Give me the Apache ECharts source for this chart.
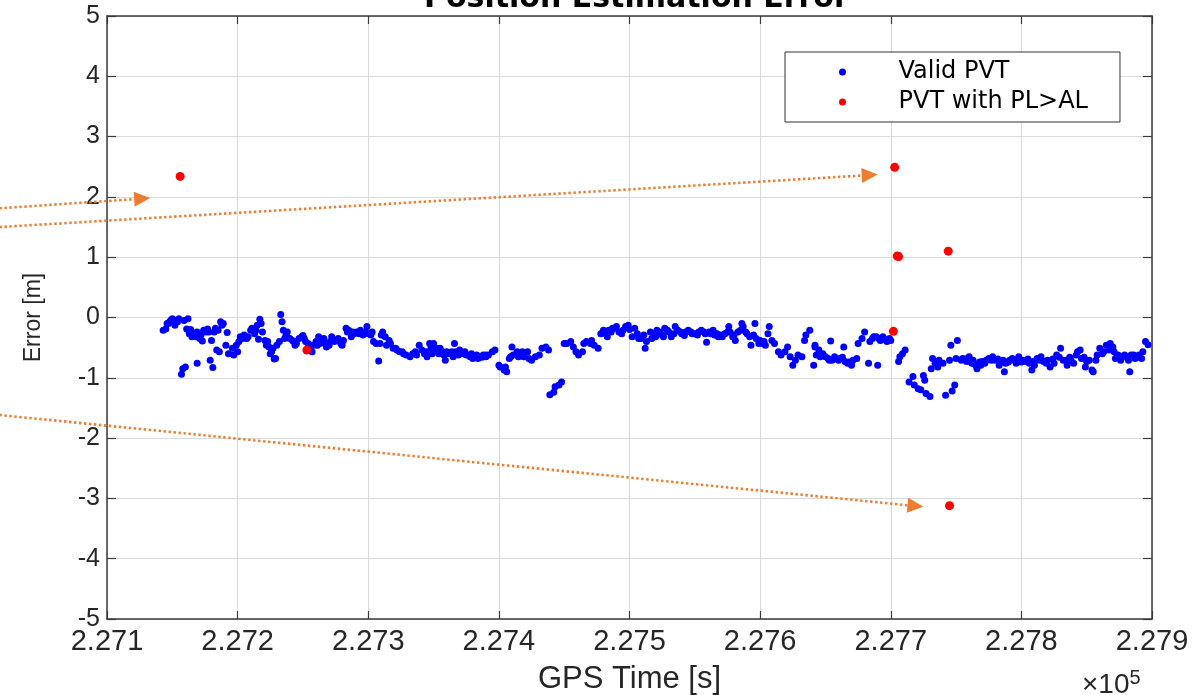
<!DOCTYPE html>
<html><head><meta charset="utf-8">
<script src="https://cdn.jsdelivr.net/npm/echarts@6/dist/echarts.min.js"></script>
<style>html,body{margin:0;padding:0;background:#fff}#c{width:1199px;height:695px}</style>
</head><body><div id="c"></div>
<script>
// ---- data ----
const xTickLabels = ['2.271','2.272','2.273','2.274','2.275','2.276','2.277','2.278','2.279'];
const yTickLabels = ['-5','-4','-3','-2','-1','0','1','2','3','4','5'];

const validSeg1 = [
[227143,-0.21],[227145,-0.19],[227147,-0.10],[227149,-0.04],[227151,-0.07],[227152,-0.13],[227155,-0.02],[227150,-0.02],[227162,-0.02],[227161,-0.19],
[227164,-0.20],[227165,-0.32],[227168,-0.32],[227169,-0.24],[227171,-0.35],[227173,-0.39],[227174,-0.21],[227177,-0.19],[227178,-0.24],[227182,-0.24],
[227183,-0.18],[227187,-0.07],[227188,-0.13],[227192,-0.25],[227180,-0.38],[227184,-0.54],[227186,-0.57],[227191,-0.46],[227193,-0.60],[227196,-0.51],
[227197,-0.62],[227200,-0.57],[227201,-0.40],[227202,-0.32],[227205,-0.29],[227207,-0.35],[227208,-0.32],[227211,-0.18],[227214,-0.21],[227215,-0.13],
[227217,-0.03],[227219,-0.24],[227216,-0.36],[227221,-0.38],[227222,-0.46],[227224,-0.49],[227225,-0.60],[227226,-0.57],[227229,-0.68],[227230,-0.46],
[227233,0.05],[227234,-0.07],[227235,-0.21],[227236,-0.35],[227238,-0.24],[227240,-0.35],[227243,-0.40],[227244,-0.46],[227245,-0.43],[227249,-0.32],
[227250,-0.30],[227252,-0.40],[227254,-0.43],[227257,-0.57],[227258,-0.46],[227261,-0.46],[227262,-0.32],[227264,-0.40],[227266,-0.35],[227268,-0.49],
[227271,-0.40],[227272,-0.32],[227275,-0.38],[227277,-0.35],[227280,-0.46],[227281,-0.38],[227283,-0.18],[227285,-0.21],[227287,-0.32],[227289,-0.27],
[227291,-0.24],[227294,-0.21],[227296,-0.29],[227299,-0.15],[227300,-0.27],[227303,-0.24],[227304,-0.40],[227306,-0.43],[227309,-0.43],[227311,-0.24],
[227313,-0.32],[227314,-0.46],[227317,-0.43],[227319,-0.51],[227322,-0.54],[227324,-0.57],[227327,-0.60],[227329,-0.62],[227332,-0.65],[227334,-0.60],
[227337,-0.62],[227339,-0.46],[227341,-0.54],[227343,-0.60],[227345,-0.65],[227347,-0.43],[227348,-0.51],[227350,-0.43],[227351,-0.54],[227352,-0.51],
[227355,-0.51],[227357,-0.57],[227359,-0.71],[227360,-0.57],[227362,-0.60],[227365,-0.65],[227366,-0.43],[227367,-0.57],[227370,-0.54],[227373,-0.60],
[227375,-0.62],[227378,-0.65],[227380,-0.68],[227383,-0.62],[227385,-0.65],[227388,-0.62],[227390,-0.62],
[227157,-0.94],[227158,-0.85],[227160,-0.82],[227169,-0.76],[227179,-0.71],[227181,-0.83],[227228,-0.69],[227308,-0.72],
[227146,-0.10],[227154,-0.07],[227166,-0.29],[227172,-0.29]
];
const validSeg2 = [
[227390,-0.65],[227392,-0.62],[227395,-0.57],[227397,-0.54],[227400,-0.79],[227401,-0.82],[227404,-0.87],[227406,-0.90],[227405,-0.82],[227408,-0.68],
[227409,-0.65],[227410,-0.49],[227411,-0.62],[227414,-0.57],[227415,-0.65],[227418,-0.57],[227419,-0.65],[227422,-0.57],[227423,-0.68],[227425,-0.71],
[227428,-0.65],[227431,-0.62],[227433,-0.51],[227436,-0.49],[227438,-0.54],
[227439,-1.28],[227442,-1.24],[227443,-1.15],[227446,-1.12],[227448,-1.07],
[227450,-0.43],[227452,-0.43],[227455,-0.40],[227457,-0.49],[227459,-0.57],[227461,-0.62],[227464,-0.57],[227465,-0.43],[227467,-0.40],[227470,-0.43],
[227471,-0.38],[227473,-0.46],[227476,-0.51],[227478,-0.27],[227480,-0.21],[227483,-0.32],[227484,-0.21],[227487,-0.18],[227489,-0.18],[227490,-0.15],
[227492,-0.24],[227494,-0.27],[227497,-0.15],[227499,-0.13],[227502,-0.32],[227504,-0.18],[227506,-0.27],[227507,-0.35],[227509,-0.35],[227512,-0.51],
[227513,-0.40],[227516,-0.24],[227517,-0.35],[227520,-0.32],[227521,-0.21],[227523,-0.24],[227526,-0.32],[227527,-0.18],[227530,-0.24],[227532,-0.32],
[227535,-0.15],[227537,-0.21],[227540,-0.27],[227543,-0.24],[227545,-0.21],[227548,-0.27],[227550,-0.27],[227553,-0.24],[227555,-0.21],[227558,-0.27],
[227559,-0.41],[227562,-0.27],[227564,-0.21],[227565,-0.29],[227568,-0.32],[227571,-0.32],[227573,-0.27],[227576,-0.15],[227577,-0.24],[227579,-0.32],
[227581,-0.38],[227583,-0.24],[227586,-0.10],[227587,-0.15],[227590,-0.27],[227592,-0.32],[227593,-0.46],[227596,-0.10],[227597,-0.35],[227600,-0.38],
[227602,-0.43],[227604,-0.46],[227606,-0.27],[227607,-0.15],[227609,-0.38],[227611,-0.43],[227614,-0.57],[227616,-0.62],[227619,-0.57],[227621,-0.49],
[227623,-0.65],[227625,-0.79],[227627,-0.71],[227629,-0.62],[227632,-0.65],[227634,-0.38],[227635,-0.29],[227638,-0.21],[227641,-0.79],[227642,-0.46],
[227643,-0.62],[227646,-0.65]
];
const validSeg3 = [
[227642,-0.49],[227645,-0.54],[227647,-0.62],[227650,-0.65],[227652,-0.68],[227654,-0.39],[227655,-0.71],[227657,-0.65],[227660,-0.71],[227661,-0.68],
[227664,-0.49],[227665,-0.73],[227667,-0.76],[227670,-0.79],[227671,-0.71],[227674,-0.68],[227675,-0.43],[227678,-0.35],[227680,-0.24],[227683,-0.76],
[227684,-0.40],[227687,-0.32],[227689,-0.32],[227690,-0.79],[227692,-0.38],[227694,-0.32],[227697,-0.40],[227699,-0.35],
[227706,-0.73],[227707,-0.65],[227709,-0.60],[227711,-0.54],
[227714,-1.07],[227717,-0.98],[227718,-1.12],[227721,-1.18],[227723,-1.20],[227725,-0.96],[227726,-1.04],[227727,-1.26],[227730,-1.31],
[227732,-0.68],[227731,-0.85],[227734,-0.76],[227736,-0.82],[227737,-0.71],[227740,-0.76],[227742,-1.29],[227745,-0.71],[227746,-0.46],[227747,-1.22],
[227749,-1.12],[227750,-0.68],[227751,-0.38],[227754,-0.71],[227755,-0.68],[227758,-0.73],[227760,-0.65],[227763,-0.71],[227765,-0.79],[227766,-0.85],
[227769,-0.79],[227770,-0.73],[227773,-0.71],[227775,-0.68],[227778,-0.65],[227780,-0.71],[227783,-0.79],[227784,-0.73],[227787,-0.90],[227788,-0.76],
[227791,-0.71],[227793,-0.68],[227796,-0.76],[227798,-0.65],[227801,-0.71],[227803,-0.73],[227806,-0.76],[227808,-0.87],[227810,-0.79],[227812,-0.68],
[227815,-0.65],[227817,-0.73],[227820,-0.71],[227822,-0.82],[227825,-0.76],[227827,-0.62],[227830,-0.51],[227832,-0.71],[227835,-0.79],[227838,-0.71],
[227840,-0.76],[227843,-0.57],[227845,-0.54],[227846,-0.68],[227849,-0.82],[227850,-0.73],[227852,-0.71],[227854,-0.87],[227855,-0.90],[227858,-0.62],
[227860,-0.51],[227863,-0.57],[227865,-0.46],[227868,-0.43],[227870,-0.49],[227872,-0.68],[227874,-0.62],[227877,-0.65],[227879,-0.62],[227882,-0.71],
[227883,-0.90],[227884,-0.62],[227887,-0.68],[227890,-0.62],[227892,-0.68],[227893,-0.57],[227895,-0.40],[227897,-0.45]
];
const validExtra = [
[227148,-0.07],[227153,-0.05],[227159,-0.05],[227163,-0.27],[227167,-0.27],[227170,-0.32],[227176,-0.24],[227185,-0.21],[227189,-0.10],[227199,-0.46],
[227204,-0.35],[227210,-0.21],[227213,-0.27],[227218,-0.10],[227223,-0.40],[227227,-0.51],[227232,-0.40],[227237,-0.30],[227242,-0.38],[227247,-0.35],
[227251,-0.35],[227256,-0.49],[227260,-0.40],[227263,-0.43],[227267,-0.43],[227270,-0.46],[227274,-0.40],[227279,-0.43],[227284,-0.24],[227288,-0.24],
[227293,-0.27],[227298,-0.24],[227302,-0.29],[227310,-0.29],[227316,-0.38],[227321,-0.51],[227326,-0.57],
[227336,-0.57],[227344,-0.57],[227349,-0.60],[227354,-0.60],[227358,-0.62],[227364,-0.57],[227369,-0.62],[227374,-0.57],[227379,-0.60],[227384,-0.68],[227387,-0.66],
[227482,-0.27],[227486,-0.24],[227495,-0.21],[227500,-0.20],[227511,-0.29],[227519,-0.27],[227525,-0.29],[227529,-0.21],[227534,-0.27],[227539,-0.24],
[227542,-0.30],[227547,-0.24],[227552,-0.29],[227557,-0.24],[227561,-0.24],[227567,-0.27],[227570,-0.29],[227575,-0.24],[227580,-0.29],[227585,-0.21],
[227589,-0.24],[227595,-0.29],[227599,-0.43],[227603,-0.40],
[227648,-0.60],[227653,-0.71],[227658,-0.68],[227663,-0.66],[227668,-0.74],[227686,-0.35],[227691,-0.35],[227696,-0.37],[227700,-0.38],
[227757,-0.69],[227762,-0.76],[227768,-0.74],[227772,-0.76],[227777,-0.71],[227782,-0.69],[227786,-0.71],[227790,-0.74],[227795,-0.71],[227800,-0.74],
[227805,-0.69],[227809,-0.73],[227814,-0.71],[227819,-0.76],[227824,-0.69],[227829,-0.66],[227834,-0.71],[227837,-0.66],[227842,-0.62],[227848,-0.66],
[227857,-0.71],[227862,-0.60],[227867,-0.54],[227871,-0.57],[227876,-0.71],[227881,-0.66],[227886,-0.62],[227889,-0.66]
];
const plAlPoints = [
[227156,2.34],[227253,-0.54],[227702,-0.23],[227703,2.49],[227705,1.02],[227706,1.01],[227744,1.10],[227745,-3.12]
];
// annotation arrows (data coordinates): start -> tip
const arrowStarts = [[227010,1.80],[227010,1.49],[227010,-1.60]];
const arrowTips   = [[227133,1.98],[227690,2.37],[227725,-3.14]];

// ---- chart ----
const chart = echarts.init(document.getElementById('c'), null, {renderer:'canvas'});
const FONT = 'Liberation Sans';
const axisColor = '#3a3a3a';
const gridColor = '#dadada';
const fmtX = v => { const i = Math.round((v - 227100) / 100); return xTickLabels[i] || ''; };
const fmtY = v => { const i = Math.round(v + 5); return yTickLabels[i] || ''; };
const baseX = {min:227100, max:227900, interval:100};
const baseY = {min:-5, max:5, interval:1};

chart.setOption({
  animation:false,
  backgroundColor:'#fff',
  title:{text:'Position Estimation Error', left:419, top:-21,
    textStyle:{fontFamily:'DejaVu Sans', fontWeight:'bold', fontSize:30, color:'#000'}},
  legend:{
    orient:'vertical', left:785, top:52,
    padding:[8,32,8,54], itemGap:6, itemWidth:66, itemHeight:7,
    backgroundColor:'#fff', borderColor:'#333', borderWidth:1, borderRadius:0,
    textStyle:{fontFamily:'DejaVu Sans', fontSize:24, color:'#000', lineHeight:20, padding:[0,0,0,18]},
    data:[{name:'Valid PVT', icon:'circle'},{name:'PVT with PL>AL', icon:'circle'}]
  },
  grid:{left:107, right:47, top:16, bottom:76, containLabel:false, outerBoundsMode:'none'},
  xAxis:[
    Object.assign({type:'value', position:'bottom',
      name:'GPS Time [s]', nameLocation:'middle', nameGap:45,
      nameTextStyle:{fontFamily:FONT, fontSize:31, color:'#262626'},
      axisLine:{onZero:false, lineStyle:{color:axisColor, width:1.5}},
      axisTick:{inside:true, length:8, lineStyle:{color:axisColor, width:1.2}},
      axisLabel:{formatter:fmtX, margin:8, fontFamily:FONT, fontSize:29, color:'#262626'},
      splitLine:{show:true, lineStyle:{color:gridColor, width:1}}}, baseX),
    Object.assign({type:'value', position:'top',
      axisLine:{onZero:false, lineStyle:{color:axisColor, width:1.5}},
      axisTick:{inside:true, length:8, lineStyle:{color:axisColor, width:1.2}},
      axisLabel:{show:false}, splitLine:{show:false}}, baseX)
  ],
  yAxis:[
    Object.assign({type:'value', position:'left',
      name:'Error [m]', nameLocation:'middle', nameGap:62, nameRotate:90,
      nameTextStyle:{fontFamily:FONT, fontSize:23, color:'#262626'},
      axisLine:{onZero:false, lineStyle:{color:axisColor, width:1.5}},
      axisTick:{inside:true, length:9, lineStyle:{color:axisColor, width:1.2}},
      axisLabel:{formatter:fmtY, margin:7, fontFamily:FONT, fontSize:25, color:'#262626'},
      splitLine:{show:true, lineStyle:{color:gridColor, width:1}}}, baseY),
    Object.assign({type:'value', position:'right',
      axisLine:{onZero:false, lineStyle:{color:axisColor, width:1.5}},
      axisTick:{inside:true, length:9, lineStyle:{color:axisColor, width:1.2}},
      axisLabel:{show:false}, splitLine:{show:false}}, baseY)
  ],
  series:[
    {name:'Valid PVT', type:'scatter', xAxisIndex:0, yAxisIndex:0, symbol:'circle', symbolSize:7,
      itemStyle:{color:'#0000ff', opacity:1}, data: validSeg1.concat(validSeg2, validSeg3, validExtra), z:2},
    {name:'PVT with PL>AL', type:'scatter', xAxisIndex:0, yAxisIndex:0, symbol:'circle', symbolSize:9,
      itemStyle:{color:'#ff0000', opacity:1}, data: plAlPoints, z:3}
  ],
  graphic:[]
});

// exponent note and arrows
const g = [{type:'text', left:1082, top:668, z:50,
  style:{text:'×10{s|5}', font:'28px "Liberation Sans"', fill:'#262626',
    rich:{s:{fontSize:20, fontFamily:'Liberation Sans', verticalAlign:'top', padding:[0,0,14,0], fill:'#262626'}}}}];
for (let i = 0; i < arrowStarts.length; i++) {
  const p0 = chart.convertToPixel({seriesIndex:0}, arrowStarts[i]);
  const p1 = chart.convertToPixel({seriesIndex:0}, arrowTips[i]);
  const dx = p1[0]-p0[0], dy = p1[1]-p0[1];
  const L = Math.hypot(dx, dy), ux = dx/L, uy = dy/L;
  const head = 16, half = 7.5;
  const bx = p1[0]-ux*head, by = p1[1]-uy*head;
  g.push({type:'line', z:60, silent:true,
    shape:{x1:p0[0], y1:p0[1], x2:bx, y2:by},
    style:{stroke:'#ED7D31', lineWidth:2.6, lineDash:[2.4,2.6]}});
  g.push({type:'polygon', z:61, silent:true,
    shape:{points:[[p1[0],p1[1]],[bx-uy*half, by+ux*half],[bx+uy*half, by-ux*half]]},
    style:{fill:'#ED7D31'}});
}
chart.setOption({graphic:g});
</script>
</body></html>
